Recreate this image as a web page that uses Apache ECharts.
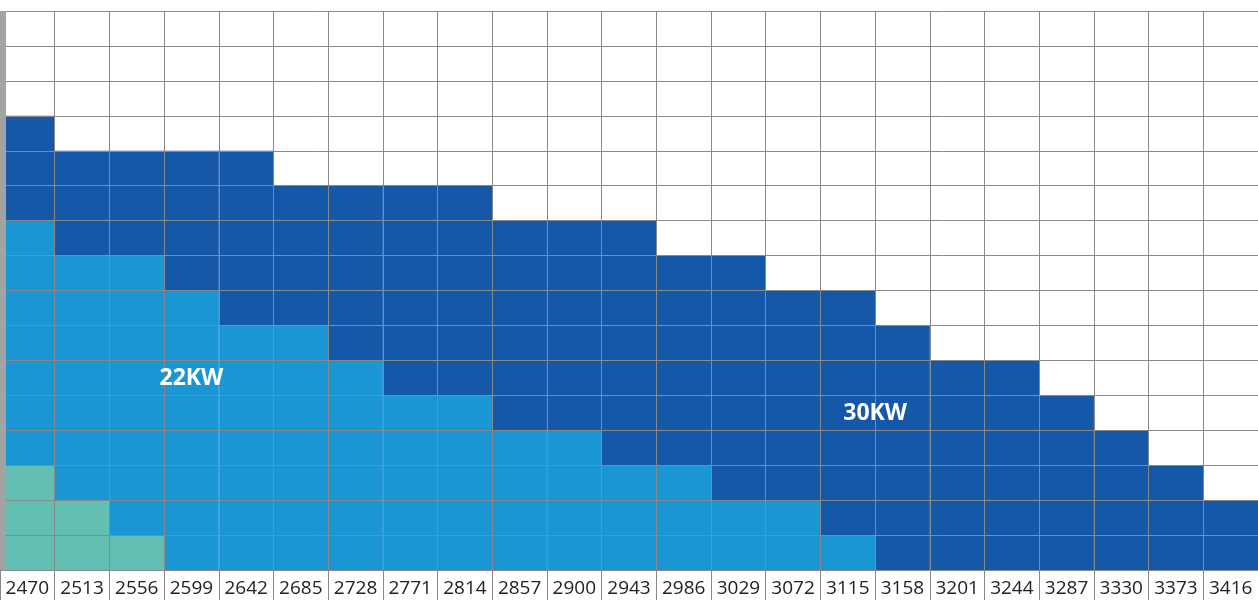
<!DOCTYPE html>
<html>
<head>
<meta charset="utf-8">
<script src="https://cdn.jsdelivr.net/npm/echarts@6/dist/echarts.min.js"></script>
<style>
  html, body { margin: 0; padding: 0; background: #fff; }
  #chart { width: 1258px; height: 600px; }
</style>
</head>
<body>
<div id="chart"></div>
<script>
// column labels along the bottom
var categories = [2470, 2513, 2556, 2599, 2642, 2685, 2728, 2771, 2814, 2857, 2900, 2943,
  2986, 3029, 3072, 3115, 3158, 3201, 3244, 3287, 3330, 3373, 3416];

// number of cells per column, stacked from the bottom
var greenCells = [3, 2, 1, 0, 0, 0, 0, 0, 0, 0, 0, 0, 0, 0, 0, 0, 0, 0, 0, 0, 0, 0, 0];
var lightCells = [7, 7, 8, 8, 7, 7, 6, 5, 5, 4, 4, 3, 3, 2, 2, 1, 0, 0, 0, 0, 0, 0, 0];
var darkCells = [3, 3, 3, 4, 5, 4, 5, 6, 6, 6, 6, 7, 6, 7, 6, 7, 7, 6, 6, 5, 4, 3, 2];

var rowCount = 16;
var zoneLabels = ["22KW", "30KW"];

var chart = echarts.init(document.getElementById("chart"));

var gridColor = "#888";

function cellSeries(name, data, color) {
  return {
    name: name,
    type: "bar",
    stack: "cells",
    barCategoryGap: "0%",
    data: data,
    itemStyle: { color: color },
    silent: true,
  };
}

chart.setOption({
  animation: false,
  grid: { left: -3, right: -3, top: 11, bottom: 30 },
  xAxis: {
    type: "category",
    data: categories,
    z: 10,
    axisLine: { lineStyle: { color: gridColor } },
    axisTick: { show: true, length: 30, lineStyle: { color: gridColor } },
    axisLabel: {
      interval: 0,
      margin: 9,
      fontFamily: "Open Sans",
      fontSize: 19,
      color: "#222",
    },
    splitLine: { show: true, interval: 0, lineStyle: { color: gridColor } },
  },
  yAxis: {
    type: "value",
    min: 0,
    max: rowCount,
    interval: 1,
    z: 10,
    axisLabel: { show: false },
    axisTick: { show: false },
    axisLine: { show: true, lineStyle: { color: "#a3a3a3", width: 12, cap: "butt" } },
    splitLine: { show: true, lineStyle: { color: gridColor } },
  },
  series: [
    cellSeries("green", greenCells, "#62bfb2"),
    cellSeries("22KW", lightCells, "#1b96d5"),
    cellSeries("30KW", darkCells, "#1558a7"),
  ],
});

// zone labels, placed through the grid's own scales
var p22 = chart.convertToPixel({ gridIndex: 0 }, [3, 5.5]);
var a30 = chart.convertToPixel({ gridIndex: 0 }, [15, 4.5]);
var b30 = chart.convertToPixel({ gridIndex: 0 }, [16, 4.5]);
var p30 = [(a30[0] + b30[0]) / 2, a30[1]];

function zoneText(text, p) {
  return {
    type: "text",
    x: p[0],
    y: p[1] + 1,
    z: 20,
    style: {
      text: text,
      fill: "#fff",
      font: "bold 23px 'Open Sans'",
      align: "center",
      verticalAlign: "middle",
    },
  };
}

chart.setOption({
  graphic: [zoneText(zoneLabels[0], p22), zoneText(zoneLabels[1], p30)],
});
</script>
</body>
</html>
